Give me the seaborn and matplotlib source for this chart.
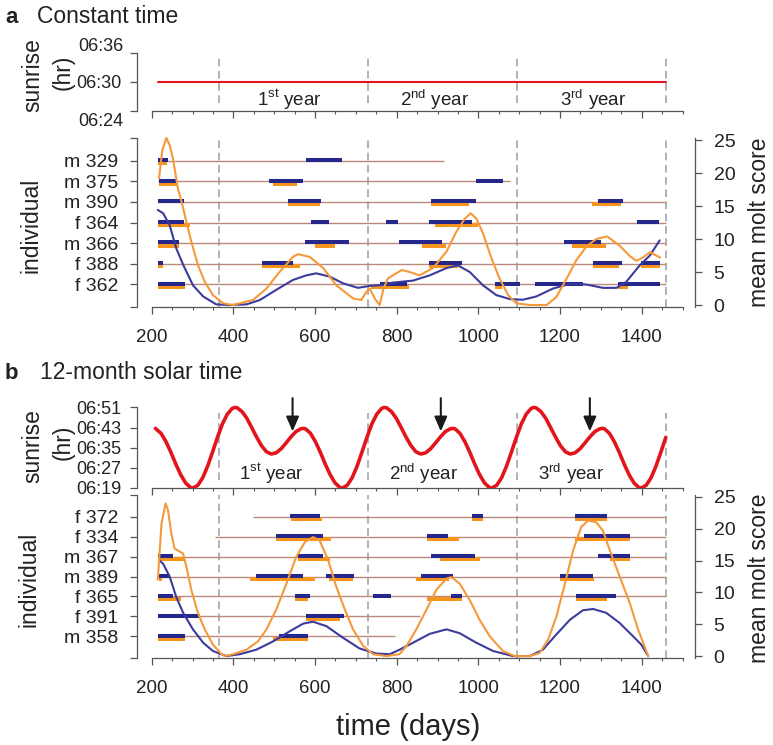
import matplotlib
matplotlib.use("Agg")
import matplotlib.pyplot as plt
import seaborn as sns

sns.set_theme(style="ticks")
plt.rcParams["font.family"] = ["Liberation Sans", "DejaVu Sans"]
plt.rcParams["mathtext.fontset"] = "custom"
plt.rcParams["mathtext.rm"] = "Liberation Sans"

RED = "#e3151c"
NAVY = "#25278a"
ORANGE = "#f7941e"
BLUE_LINE = "#3b3b9e"
ORANGE_LINE = "#f5993a"
BROWN = "#bb8a7e"
DASH = "#9c9c9c"
AXIS = "#555555"
TEXT = "#222222"

W, H = 773, 745

# shared
year_bounds = [365, 730, 1095, 1460]
year_labels = ["1$^{\\mathrm{st}}$ year", "2$^{\\mathrm{nd}}$ year", "3$^{\\mathrm{rd}}$ year"]
x_major = [200, 400, 600, 800, 1000, 1200, 1400]
x_minor = list(range(200, 1501, 50))
score_ticks = [0, 5, 10, 15, 20, 25]

# ---------------- panel a : constant time ----------------
a_year_x = [536, 893, 1281]
a_sun_days = [215, 1460]
a_sun_min = [30, 30]  # minutes after 06:00

a_ids = ["m 329", "m 375", "m 390", "f 364", "m 366", "f 388", "f 362"]
a_start = [215, 215, 215, 215, 215, 215, 215]
a_end = [916, 1077, 1460, 1460, 1460, 1460, 1460]
a_blue = [
    [(215, 240), (579, 667)],
    [(218, 263), (487, 571), (993, 1060)],
    [(215, 279), (534, 614), (885, 993), (1293, 1353)],
    [(215, 279), (591, 634), (773, 803), (879, 985), (1389, 1442)],
    [(215, 268), (576, 683), (806, 912), (1209, 1301)],
    [(215, 227), (469, 546), (879, 961), (1281, 1352), (1399, 1444)],
    [(215, 281), (758, 824), (1040, 1101), (1138, 1256), (1342, 1444)],
]
a_orange = [
    [(215, 237)],
    [(218, 262), (497, 557)],
    [(534, 612), (885, 977), (1278, 1350)],
    [(215, 294), (895, 999)],
    [(215, 268), (599, 648), (863, 920), (1230, 1312)],
    [(215, 227), (469, 562), (879, 950), (1281, 1344), (1399, 1444)],
    [(215, 281), (738, 830), (1040, 1059), (1342, 1366)],
]
a_or_days = [218, 226, 236, 244, 252, 264, 275, 285, 297, 313, 330, 350, 375, 399, 448, 481, 513, 546,
             558, 587, 620, 652, 693, 713, 726, 734, 746, 758, 768, 778, 791, 812, 832, 856, 889, 922,
             946, 967, 981, 995, 1011, 1032, 1052, 1073, 1093, 1126, 1167, 1191, 1216, 1240, 1265,
             1289, 1315, 1346, 1371, 1387, 1403, 1420, 1445]
a_or_score = [19.2, 23.5, 25.3, 24.2, 22.2, 17.7, 15.2, 12.6, 9.6, 6.1, 3.5, 1.5, 0.26, 0.0, 0.76, 2.5,
              5.0, 7.3, 7.7, 7.3, 5.6, 3.0, 1.0, 0.76, 2.0, 2.5, 1.0, 0.0, 2.5, 4.0, 4.5, 5.3, 5.0, 4.5,
              5.6, 8.1, 11.1, 13.1, 13.9, 13.1, 10.9, 7.1, 4.0, 1.5, 0.26, 0.0, 0.0, 1.2, 4.0, 6.8,
              8.9, 10.0, 10.4, 9.0, 7.4, 6.7, 7.2, 8.0, 7.2]
a_bl_days = [215, 228, 244, 260, 277, 301, 326, 358, 391, 432, 465, 505, 546, 579, 603, 636, 668, 705,
             734, 758, 791, 840, 881, 922, 950, 979, 1011, 1044, 1077, 1109, 1142, 1183, 1224, 1265,
             1305, 1338, 1362, 1395, 1420, 1444]
a_bl_score = [14.4, 13.9, 12.1, 8.6, 6.1, 3.0, 1.3, 0.1, 0.0, 0.1, 0.76, 2.3, 3.8, 4.5, 4.8, 4.3, 3.3,
              2.6, 2.9, 3.0, 3.4, 3.7, 4.5, 5.6, 6.0, 5.0, 3.0, 1.5, 0.9, 0.8, 1.3, 2.5, 3.2, 3.1,
              2.6, 2.6, 3.5, 6.0, 7.5, 9.8]

# ---------------- panel b : 12-month solar time ----------------
b_year_x = [494, 865, 1227]
arrow_days = [545, 908, 1273]
b_sun_days = [209, 223, 235, 247, 259, 271, 283, 295,
              301, 313, 325, 337, 349, 361, 373, 385, 397, 403, 409, 421, 433, 445, 457, 469, 481,
              493, 505, 517, 529, 541, 553, 565, 571, 577, 589, 601, 613, 625, 637, 649, 661,
              667, 679, 691, 703, 715, 727, 739, 751, 763, 769, 775, 787, 799, 811, 823, 835, 847,
              859, 871, 883, 895, 907, 919, 931, 937, 943, 955, 967, 979, 991, 1003, 1015, 1027,
              1033, 1045, 1057, 1069, 1081, 1093, 1105, 1117, 1129, 1135, 1141, 1153, 1165, 1177,
              1189, 1201, 1213, 1225, 1237, 1249, 1261, 1273, 1285, 1297, 1303, 1309, 1321, 1333,
              1345, 1357, 1369, 1381, 1393,
              1399, 1411, 1423, 1435, 1447, 1459]
b_sun_min = [42.7, 40.7, 37.4, 33.2, 28.5, 24.3, 21.0, 19.2,
             19.0, 20.1, 23.1, 27.7, 33.3, 39.1, 44.4, 48.3, 50.6, 51.0, 50.9, 49.4, 46.7, 43.0,
             39.2, 35.8, 33.4, 32.5, 33.0, 34.6, 36.9, 39.3, 41.4, 42.5, 42.7, 42.5, 40.7, 37.4,
             33.2, 28.5, 24.3, 21.0, 19.2,
             19.0, 20.1, 23.1, 27.7, 33.3, 39.1, 44.4, 48.3, 50.6, 51.0, 50.9, 49.4, 46.7, 43.0,
             39.2, 35.8, 33.4, 32.5, 33.0, 34.6, 36.9, 39.3, 41.4, 42.5, 42.7, 42.5, 40.7, 37.4,
             33.2, 28.5, 24.3, 21.0, 19.2,
             19.0, 20.1, 23.1, 27.7, 33.3, 39.1, 44.4, 48.3, 50.6, 51.0, 50.9, 49.4, 46.7, 43.0,
             39.2, 35.8, 33.4, 32.5, 33.0, 34.6, 36.9, 39.3, 41.4, 42.5, 42.7, 42.5, 40.7, 37.4,
             33.2, 28.5, 24.3, 21.0, 19.2,
             19.0, 20.1, 23.1, 27.7, 33.3, 39.1]
b_sun_ticks = [19, 27, 35, 43, 51]
b_sun_labels = ["06:19", "06:27", "06:35", "06:43", "06:51"]

b_ids = ["f 372", "f 334", "m 367", "m 389", "f 365", "f 391", "m 358"]
b_start = [448, 354, 215, 215, 215, 215, 215]
b_end = [1460, 1460, 1460, 1460, 1460, 856, 795]
b_blue = [
    [(538, 611), (985, 1011), (1236, 1314)],
    [(504, 620), (873, 926), (1258, 1371)],
    [(215, 252), (558, 620), (885, 991), (1293, 1372)],
    [(218, 244), (456, 571), (627, 695), (860, 938), (1199, 1281)],
    [(215, 252), (550, 587), (741, 787), (932, 961), (1240, 1338)],
    [(215, 318), (577, 672)],
    [(215, 281), (512, 583)],
]
b_orange = [
    [(542, 618), (985, 1011), (1236, 1314)],
    [(504, 640), (873, 952), (1236, 1371)],
    [(215, 281), (558, 636), (905, 1003), (1322, 1372)],
    [(218, 226), (440, 599), (634, 694), (848, 928), (1199, 1283)],
    [(215, 272), (550, 583), (873, 961), (1240, 1314)],
    [(577, 660)],
    [(215, 281), (497, 583)],
]
b_or_days = [215, 224, 234, 240, 248, 256, 269, 277, 285, 297, 313, 330, 350, 371, 379, 399, 432, 460,
             481, 505, 530, 554, 575, 595, 611, 632, 652, 673, 693, 718, 742, 775, 807, 824, 848, 873,
             897, 922, 934, 954, 979, 1003, 1028, 1060, 1089, 1126, 1150, 1171, 1191, 1212, 1232,
             1252, 1269, 1289, 1305, 1322, 1346, 1371, 1391, 1416]
b_or_score = [12.0, 20.8, 24.0, 22.9, 19.3, 16.9, 16.4, 16.1, 14.0, 10.4, 6.8, 4.2, 1.8, 0.3, 0.0, 0.3,
              1.0, 2.3, 4.2, 7.3, 11.4, 15.6, 17.9, 18.7, 18.2, 15.1, 10.9, 7.3, 4.2, 1.6, 0.3, 0.0,
              0.3, 1.6, 4.2, 7.3, 10.4, 12.2, 12.4, 11.4, 8.8, 5.7, 3.1, 0.8, 0.0, 0.0, 0.5, 2.6, 6.2,
              11.4, 16.6, 20.3, 21.3, 21.0, 19.7, 16.6, 12.5, 8.3, 4.2, 0.0]
b_bl_days = [218, 228, 244, 260, 277, 301, 326, 350, 383, 416, 456, 497, 538, 571, 595, 628, 668, 709,
             750, 783, 807, 840, 881, 922, 954, 995, 1036, 1085, 1126, 1158, 1191, 1224, 1256, 1281,
             1313, 1346, 1379, 1399, 1416]
b_bl_score = [15.1, 14.5, 12.5, 9.3, 6.8, 4.2, 2.1, 0.8, 0.0, 0.3, 1.0, 2.3, 3.9, 5.1, 5.4, 4.7, 2.9,
              1.2, 0.4, 0.3, 1.0, 2.1, 3.5, 4.2, 3.6, 2.1, 0.8, 0.0, 0.0, 1.0, 3.4, 5.7, 7.2, 7.4,
              6.8, 5.2, 3.1, 1.8, 0.0]


def fig_rect(top_px, bottom_px):
    left, right = 137, 695
    return [left / W, 1 - bottom_px / H, (right - left) / W, (bottom_px - top_px) / H]


def style_x(ax, labels):
    ax.set_xlim(164, 1530.5)
    ax.set_xticks(x_major)
    ax.set_xticks(x_minor, minor=True)
    ax.spines["bottom"].set_bounds(200, 1500)
    ax.tick_params(axis="x", which="major", length=5, width=0.9, color=AXIS,
                   labelcolor=TEXT, labelsize=13.5, pad=10.5)
    ax.tick_params(axis="x", which="minor", length=2.5, width=0.8, color=AXIS)
    if not labels:
        ax.tick_params(axis="x", which="both", labelbottom=False)
    for s in ["top", "right"]:
        ax.spines[s].set_visible(False)
    for s in ["left", "bottom"]:
        ax.spines[s].set_color(AXIS)
        ax.spines[s].set_linewidth(0.9)
    ax.patch.set_alpha(0)
    ax.grid(False)


def draw_individuals(ax, ids, start, end, blue, orange, or_days, or_score, bl_days, bl_score):
    rows = [25 * (len(ids) - i) / 8 for i in range(len(ids))]
    ax.vlines(year_bounds, -0.3, 25.3, colors=DASH, linestyles=(0, (5, 3)), linewidth=1.1, zorder=1)
    ax.hlines(rows, start, end, colors=BROWN, linewidth=1.0, zorder=2)
    oy = [y - 0.38 for y, segs in zip(rows, orange) for _ in segs]
    ax.hlines(oy, [s for segs in orange for s, _ in segs], [e for segs in orange for _, e in segs],
              colors=ORANGE, linewidth=2.9, zorder=3)
    by = [y + 0.1 for y, segs in zip(rows, blue) for _ in segs]
    ax.hlines(by, [s for segs in blue for s, _ in segs], [e for segs in blue for _, e in segs],
              colors=NAVY, linewidth=2.9, zorder=4)
    sns.lineplot(x=bl_days, y=bl_score, ax=ax, color=BLUE_LINE, linewidth=1.5,
                 estimator=None, sort=False, zorder=5)
    sns.lineplot(x=or_days, y=or_score, ax=ax, color=ORANGE_LINE, linewidth=1.5,
                 estimator=None, sort=False, zorder=6)
    ax.set_ylim(-0.3, 26)
    ax.set_yticks(rows)
    ax.set_yticklabels(ids)
    ax.set_yticks([-0.3, 25.3], minor=True)
    ax.spines["left"].set_bounds(-0.3, 25.3)
    ax.tick_params(axis="y", which="major", length=5, width=0.9, color=AXIS,
                   labelcolor=TEXT, labelsize=14, pad=8.6)
    ax.tick_params(axis="y", which="minor", length=5, width=0.9, color=AXIS)
    ax.set_xlabel("")
    ax.set_ylabel("")
    style_x(ax, True)

    ax2 = ax.twinx()
    ax2.set_ylim(-0.3, 26)
    ax2.set_yticks(score_ticks)
    for s in ["left", "top", "bottom"]:
        ax2.spines[s].set_visible(False)
    ax2.spines["right"].set_bounds(-0.3, 25.3)
    ax2.spines["right"].set_color(AXIS)
    ax2.spines["right"].set_linewidth(0.9)
    ax2.tick_params(axis="y", length=5, width=0.9, color=AXIS, labelcolor=TEXT,
                    labelsize=14, pad=8.4)
    ax2.grid(False)
    ax2.patch.set_alpha(0)


fig = plt.figure(figsize=(W / 100, H / 100), dpi=100)

# ---- a: sunrise ----
ax_sa = fig.add_axes(fig_rect(38.5, 125.5))
ax_sa.vlines(year_bounds, 26.4, 34.1, colors=DASH, linestyles=(0, (5, 3)), linewidth=1.1, zorder=1)
sns.lineplot(x=a_sun_days, y=a_sun_min, ax=ax_sa, color=RED, linewidth=1.5, estimator=None, zorder=3)
for x, t in zip(a_year_x, year_labels):
    ax_sa.text(x, 25.9, t, ha="center", va="baseline", fontsize=13.5, color=TEXT)
ax_sa.set_ylim(22.5, 37.5)
ax_sa.set_yticks([25, 30, 35])
ax_sa.set_yticklabels(["", "06:30", ""])
ax_sa.set_yticks([23.45, 36.55], minor=True)
ax_sa.set_yticklabels(["06:24", "06:36"], minor=True)
ax_sa.spines["left"].set_bounds(25, 35)
ax_sa.spines["bottom"].set_position(("data", 25))
ax_sa.tick_params(axis="y", which="major", length=5, width=0.9, color=AXIS,
                  labelcolor=TEXT, labelsize=13, pad=6)
ax_sa.tick_params(axis="y", which="minor", length=0, labelcolor=TEXT, labelsize=13, pad=9.6)
ax_sa.set_xlabel("")
ax_sa.set_ylabel("")
style_x(ax_sa, False)

# ---- a: individuals ----
ax_ia = fig.add_axes(fig_rect(133.4, 307))
draw_individuals(ax_ia, a_ids, a_start, a_end, a_blue, a_orange,
                 a_or_days, a_or_score, a_bl_days, a_bl_score)

# ---- b: sunrise ----
ax_sb = fig.add_axes(fig_rect(394.9, 488))
ax_sb.vlines(year_bounds, 22.2, 48.8, colors=DASH, linestyles=(0, (5, 3)), linewidth=1.1, zorder=1)
sns.lineplot(x=b_sun_days, y=b_sun_min, ax=ax_sb, color=RED, linewidth=2.6,
             estimator=None, sort=False, zorder=3)
for x, t in zip(b_year_x, year_labels):
    ax_sb.text(x, 22.2, t, ha="center", va="baseline", fontsize=13.5, color=TEXT)
for x in arrow_days:
    ax_sb.annotate("", xy=(x, 41.5), xytext=(x, 54.7),
                   arrowprops=dict(arrowstyle="-|>,head_length=0.8,head_width=0.35",
                                   mutation_scale=11, lw=1.5, color="#1a1a1a",
                                   shrinkA=0, shrinkB=0), annotation_clip=False)
ax_sb.set_ylim(19, 56)
ax_sb.set_yticks(b_sun_ticks)
ax_sb.set_yticklabels(b_sun_labels)
ax_sb.spines["left"].set_bounds(19, 51)
ax_sb.tick_params(axis="y", length=5, width=0.9, color=AXIS, labelcolor=TEXT,
                  labelsize=13, pad=6)
ax_sb.set_xlabel("")
ax_sb.set_ylabel("")
style_x(ax_sb, False)

# ---- b: individuals ----
ax_ib = fig.add_axes(fig_rect(490.6, 658))
draw_individuals(ax_ib, b_ids, b_start, b_end, b_blue, b_orange,
                 b_or_days, b_or_score, b_bl_days, b_bl_score)


def ftext(x, y, s, **kw):
    fig.text(x / W, 1 - y / H, s, color=TEXT, **kw)


ftext(5, 23, "a", fontsize=16, fontweight="bold", va="baseline")
ftext(37, 23, "Constant time", fontsize=16.5, va="baseline")
ftext(5, 379, "b", fontsize=16, fontweight="bold", va="baseline")
ftext(40, 379, "12-month solar time", fontsize=16.5, va="baseline")

for yc, yh in [(75, 72), (446, 442)]:
    ftext(33, yc, "sunrise", rotation=90, ha="center", va="center", fontsize=16.5)
    ftext(63, yh, "(hr)", rotation=90, ha="center", va="center", fontsize=16.5)
ftext(31, 225, "individual", rotation=90, ha="center", va="center", fontsize=16.5)
ftext(29, 579, "individual", rotation=90, ha="center", va="center", fontsize=16.5)
ftext(760, 222, "mean molt score", rotation=90, ha="center", va="center", fontsize=16.5)
ftext(760, 578, "mean molt score", rotation=90, ha="center", va="center", fontsize=16.5)
ftext(408, 735, "time (days)", ha="center", va="baseline", fontsize=21)

fig.savefig("out.png", dpi=100)
